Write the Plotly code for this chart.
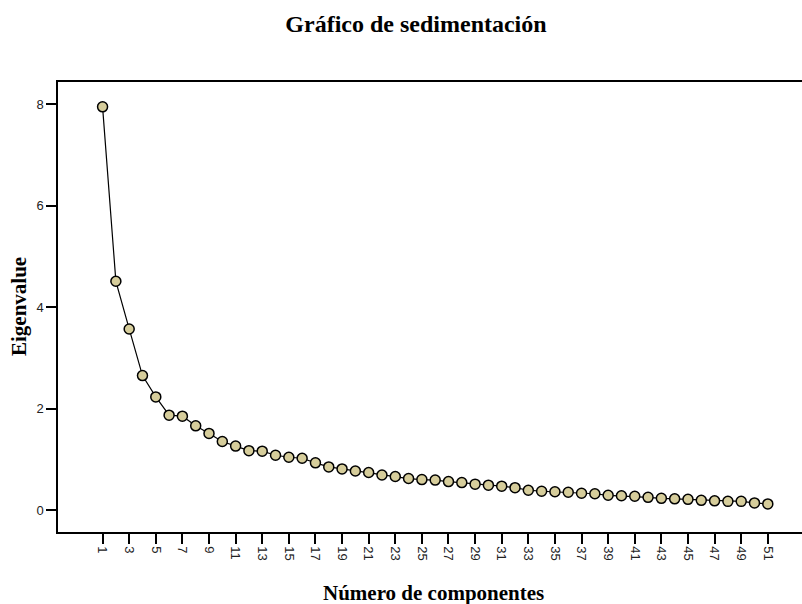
import plotly.graph_objects as go

components = list(range(1, 52))
eigenvalues = [7.95, 4.51, 3.57, 2.65, 2.23, 1.87, 1.85, 1.66, 1.51, 1.35,
               1.26, 1.17, 1.16, 1.08, 1.04, 1.02, 0.93, 0.85, 0.81, 0.77,
               0.74, 0.69, 0.66, 0.62, 0.60, 0.59, 0.56, 0.54, 0.51, 0.49,
               0.47, 0.44, 0.39, 0.37, 0.36, 0.35, 0.33, 0.32, 0.29, 0.28,
               0.27, 0.25, 0.23, 0.22, 0.21, 0.19, 0.18, 0.17, 0.17, 0.14,
               0.12]
x_ticks = list(range(1, 52, 2))
y_ticks = [0, 2, 4, 6, 8]

title_text = "Gráfico de sedimentación"
x_title = "Número de componentes"
y_title = "Eigenvalue"

serif = "Liberation Serif, Times New Roman, serif"
sans = "Liberation Sans, Arial, sans-serif"

fig = go.Figure()
fig.add_trace(go.Scatter(
    x=components, y=eigenvalues, mode="lines+markers",
    line=dict(color="black", width=1.2),
    marker=dict(size=10, color="#d6cd9b", line=dict(color="black", width=1.5)),
    showlegend=False,
))

W, H = 802, 604
ml, mt, mb, mr = 58, 82, 72, 0

fig.update_layout(
    width=W, height=H,
    margin=dict(l=ml, r=mr, t=mt, b=mb, autoexpand=False),
    paper_bgcolor="white", plot_bgcolor="white",
    title=dict(text="<b>" + title_text + "</b>", x=416 / W, xanchor="center",
               xref="container", yref="container", y=1 - 24 / H, yanchor="middle",
               font=dict(family=serif, size=24, color="black")),
    xaxis=dict(
        range=[-2.35, 53.57], tickmode="array", tickvals=x_ticks,
        ticktext=[str(v) for v in x_ticks], tickangle=90,
        ticks="outside", ticklen=10, tickwidth=1.5, tickcolor="black",
        showline=True, linecolor="black", linewidth=1.5, mirror=True,
        showgrid=False, zeroline=False, automargin=False,
        tickfont=dict(family=sans, size=13, color="#222"),
    ),
    yaxis=dict(
        range=[-0.434, 8.44], tickmode="array", tickvals=y_ticks,
        ticktext=[str(v) for v in y_ticks],
        ticks="outside", ticklen=10, tickwidth=1.5, tickcolor="black",
        showline=True, linecolor="black", linewidth=1.5, mirror=False,
        showgrid=False, zeroline=False, automargin=False,
        tickfont=dict(family=sans, size=13, color="#222"),
    ),
    annotations=[
        dict(text="<b>" + x_title + "</b>", xref="paper", yref="paper",
             x=(433 - ml) / (W - ml - mr), y=-(593 - (H - mb)) / (H - mt - mb),
             xanchor="center", yanchor="middle", showarrow=False,
             font=dict(family=serif, size=21, color="black")),
        dict(text="<b>" + y_title + "</b>", xref="paper", yref="paper",
             x=-(ml - 19) / (W - ml - mr), y=0.5, textangle=-90,
             xanchor="center", yanchor="middle", showarrow=False,
             font=dict(family=serif, size=21, color="black")),
    ],
)

fig.write_html(
    "out.html",
    config={"displayModeBar": False},
    post_script="document.body.style.margin='0';document.body.style.overflow='hidden';",
)
